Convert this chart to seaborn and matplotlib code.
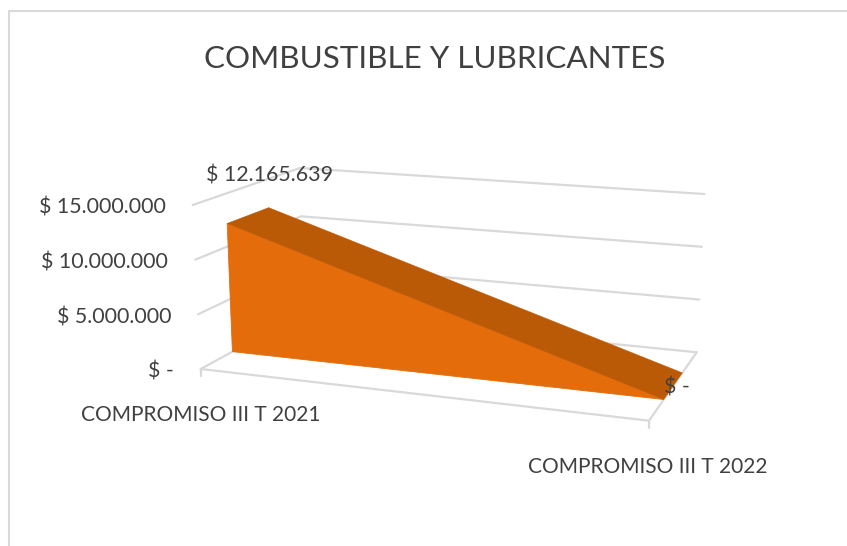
import numpy as np
import pandas as pd
import matplotlib
matplotlib.use("Agg")
import matplotlib.pyplot as plt
import seaborn as sns

titulo = "COMBUSTIBLE Y LUBRICANTES"
categorias = ["COMPROMISO III T 2021", "COMPROMISO III T 2022"]
valores = [12165639, 0]
ticks_valor = [0, 5000000, 10000000, 15000000]
ticks_texto = ["$ -", "$ 5.000.000", "$ 10.000.000", "$ 15.000.000"]
etiquetas = ["$ 12.165.639", "$ -"]

GRIS = "#D9D9D9"
TEXTO = "#404040"
FRENTE = "#E46C0A"
TECHO = "#BA5A06"

# esquinas de la caja 3D en pixeles: (categoria, profundidad, altura)
caja = {
    (0, 0, 0): (200.7, 369.0), (0, 0, 1): (192.7, 205.0),
    (0, 1, 0): (303.0, 313.0), (0, 1, 1): (300.0, 168.0),
    (1, 0, 0): (649.0, 420.7), (1, 0, 1): (656.0, 250.0),
    (1, 1, 0): (696.7, 352.3), (1, 1, 1): (704.3, 194.0),
}
vmax = ticks_valor[-1]
prof_area = (0.31, 0.70)


def proyectar(c, d, v):
    h = v / vmax
    x, y = 0.0, 0.0
    for (i, j, k), (px, py) in caja.items():
        w = (c if i else 1 - c) * (d if j else 1 - d) * (h if k else 1 - h)
        x += w * px
        y += w * py
    return x, y


sns.set_theme(style="white")
plt.rcParams["font.family"] = ["Lato", "DejaVu Sans"]

fig = plt.figure(figsize=(8.47, 5.46), dpi=100)
ax = fig.add_axes([0, 0, 1, 1])
ax.set_xlim(0, 847)
ax.set_ylim(546, 0)
ax.axis("off")

# lineas de la caja: rejilla de pared y piso
filas = []


def linea(n, puntos):
    for c, d, v in puntos:
        px, py = proyectar(c, d, v)
        filas.append({"linea": n, "px": px, "py": py})


n = 0
for t in ticks_valor:
    linea(n, [(0, 0, t), (0, 1, t), (1, 1, t)])
    n += 1
linea(n, [(0, 0, 0), (1, 0, 0), (1, 1, 0)])
n += 1
df_lineas = pd.DataFrame(filas)
sns.lineplot(data=df_lineas, x="px", y="py", units="linea", estimator=None,
             sort=False, color=GRIS, linewidth=1.6, ax=ax, legend=False)

# marcas del eje de categorias
for c in range(len(categorias)):
    px, py = proyectar(c, 0, 0)
    ax.plot([px, px], [py, py + 7], color=GRIS, lw=1.6)

# area 3D
d0, d1 = prof_area
frente = [proyectar(c, d0, v) for c, v in enumerate(valores)]
fondo = [proyectar(c, d1, v) for c, v in enumerate(valores)]
base = proyectar(0, d0, 0)
ax.fill(*zip(*(frente + [base])), facecolor=FRENTE, edgecolor=FRENTE, lw=0.6, zorder=3)
ax.fill(*zip(*(frente + fondo[::-1])), facecolor=TECHO, edgecolor=TECHO, lw=0.3, zorder=4)

# marco del grafico
ax.plot([9, 9, 847], [546, 11, 11], color=GRIS, lw=1.5, zorder=1)

# textos
ax.text(434.5, 59.5, titulo, ha="center", va="center", fontsize=22.6, color=TEXTO)
for t, s in zip(ticks_valor, ticks_texto):
    px, py = proyectar(0, 0, t)
    ax.text(px - 27, py + 3, s, ha="right", va="center", fontsize=15.4, color=TEXTO, zorder=5)
ax.text(270, 175.5, etiquetas[0], ha="center", va="center", fontsize=15.4, color=TEXTO, zorder=5)
ax.text(677, 387.5, etiquetas[1], ha="center", va="center", fontsize=15.4, color=TEXTO, zorder=5)
ax.text(201, 415, categorias[0], ha="center", va="center", fontsize=15, color=TEXTO)
ax.text(648, 467, categorias[1], ha="center", va="center", fontsize=15, color=TEXTO)

fig.savefig("out.png", dpi=100)
